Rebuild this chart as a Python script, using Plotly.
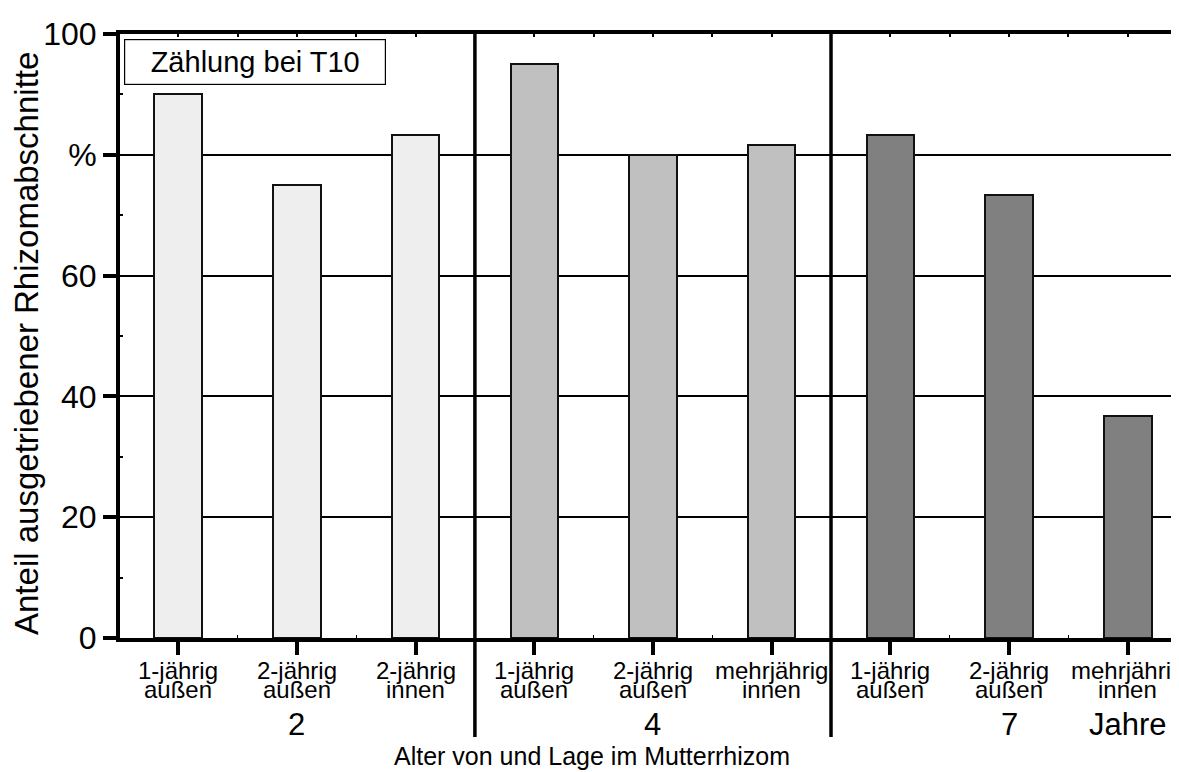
import plotly.graph_objects as go

# ---- data ----
group_names = ["2", "4", "7"]
unit_label = "Jahre"
cat_line1 = ["1-jährig", "2-jährig", "2-jährig",
             "1-jährig", "2-jährig", "mehrjährig",
             "1-jährig", "2-jährig", "mehrjährig"]
cat_line2 = ["außen", "außen", "innen",
             "außen", "außen", "innen",
             "außen", "außen", "innen"]
vals_2 = [90.0, 75.0, 83.3]
vals_4 = [95.0, 80.0, 81.7]
vals_7 = [83.3, 73.3, 36.7]
group_values = [vals_2, vals_4, vals_7]
group_colors = ["#EEEEEE", "#C0C0C0", "#808080"]
y_tickvals = [0, 20, 40, 60, 80, 100]
y_ticktext = ["0", "20", "40", "60", "%", "100"]
box_text = "Zählung bei T10"
x_title = "Alter von und Lage im Mutterrhizom"
y_title = "Anteil ausgetriebener Rhizomabschnitte"

FONT = "Liberation Sans, Arial, sans-serif"
OFF = 8                      # browser body margin
W, H = 1179 - OFF, 772 - OFF
PLOT_L, PLOT_T, PLOT_B = 120, 34, 638   # reference pixel coords
ML, MT = PLOT_L - OFF, PLOT_T - OFF
MB = H - (PLOT_B - OFF)
PW = W - ML
PH = PLOT_B - PLOT_T

def py(px):  # reference pixel y -> paper y
    return (PLOT_B - px) / PH

def pxx(px):  # reference pixel x -> paper x
    return (px - PLOT_L) / PW

fig = go.Figure()

start = 0
bounds = []
for vals, col in zip(group_values, group_colors):
    xs = list(range(start, start + len(vals)))
    fig.add_trace(go.Bar(x=xs, y=vals, width=0.4,
                         marker=dict(color=col, line=dict(color="#111111", width=2)),
                         showlegend=False, hoverinfo="skip"))
    start += len(vals)
    bounds.append(start - 0.5)

fig.add_trace(go.Scatter(x=[], y=[], xaxis="x2", showlegend=False))

n = len(cat_line1)
x_lo = -0.49
x_hi = x_lo + PW / 118.7

# separators between groups
for b in bounds[:-1]:
    fig.add_shape(type="line", xref="x", yref="paper", x0=b, x1=b,
                  y0=py(737), y1=1, line=dict(color="black", width=3.5), layer="above")

ann = []
for i in range(n):
    ann.append(dict(x=i, y=py(670), xref="x", yref="paper", text=cat_line1[i],
                    showarrow=False, xanchor="center", yanchor="middle",
                    font=dict(family=FONT, size=24, color="black")))
    ann.append(dict(x=i, y=py(689), xref="x", yref="paper", text=cat_line2[i],
                    showarrow=False, xanchor="center", yanchor="middle",
                    font=dict(family=FONT, size=24, color="black")))

start = 0
for name, vals in zip(group_names, group_values):
    c = start + len(vals) // 2
    ann.append(dict(x=c, y=py(724), xref="x", yref="paper", text=name,
                    showarrow=False, xanchor="center", yanchor="middle",
                    font=dict(family=FONT, size=31, color="black")))
    start += len(vals)
ann.append(dict(x=n - 1, y=py(724), xref="x", yref="paper", text=unit_label,
                showarrow=False, xanchor="center", yanchor="middle",
                font=dict(family=FONT, size=31, color="black")))

ann.append(dict(x=pxx(592), y=py(756), xref="paper", yref="paper", text=x_title,
                showarrow=False, xanchor="center", yanchor="middle",
                font=dict(family=FONT, size=25, color="black")))
ann.append(dict(x=pxx(26), y=py(344), xref="paper", yref="paper", text=y_title,
                showarrow=False, xanchor="center", yanchor="middle", textangle=-90,
                font=dict(family=FONT, size=33, color="black")))
ann.append(dict(x=pxx(124), y=py(39), xref="paper", yref="paper", text=box_text,
                showarrow=False, xanchor="left", yanchor="top",
                width=260, height=44, borderpad=0, borderwidth=1.2,
                bordercolor="black", bgcolor="white",
                font=dict(family=FONT, size=29, color="black")))

fig.update_layout(
    width=W, height=H,
    margin=dict(l=ML, r=0, t=MT, b=MB, pad=0),
    paper_bgcolor="white", plot_bgcolor="white",
    font=dict(family=FONT, color="black"),
    bargap=0,
    annotations=ann,
    xaxis=dict(range=[x_lo, x_hi], showgrid=False, zeroline=False,
               showline=True, linecolor="black", linewidth=4,
               tickmode="array", tickvals=list(range(n)), showticklabels=False,
               ticks="outside", ticklen=13, tickwidth=3.5, tickcolor="black",
               minor=dict(ticks="inside", ticklen=3, tickwidth=1, tickcolor="black",
                          tickvals=[i + 0.5 for i in range(-1, n)])),
    xaxis2=dict(range=[x_lo, x_hi], overlaying="x", side="top", matches="x",
                showgrid=False, zeroline=False, showline=True, linecolor="black",
                linewidth=4, showticklabels=False,
                tickmode="linear", tick0=0, dtick=0.5,
                ticks="inside", ticklen=3, tickwidth=1.5, tickcolor="black"),
    yaxis=dict(range=[0, 100], showgrid=True, gridcolor="black", gridwidth=1.5,
               zeroline=False, showline=True, linecolor="black", linewidth=4,
               tickmode="array", tickvals=y_tickvals, ticktext=y_ticktext,
               ticks="outside", ticklen=13, tickwidth=3.5, tickcolor="black",
               tickfont=dict(family=FONT, size=32, color="black"),
               minor=dict(ticks="inside", ticklen=3, tickwidth=1.5, tickcolor="black",
                          tickvals=[10, 30, 50, 70, 90], showgrid=False)),
)

fig.write_html("out.html")
